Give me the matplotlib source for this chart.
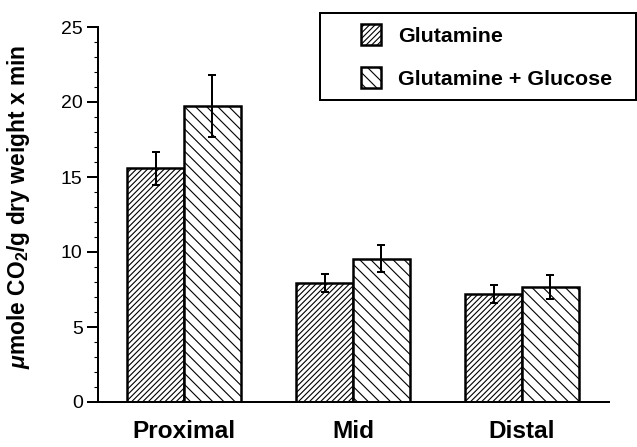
import matplotlib
matplotlib.use("Agg")
import matplotlib.pyplot as plt
from matplotlib.patches import Rectangle
from matplotlib.legend_handler import HandlerPatch
from matplotlib.ticker import MultipleLocator
import numpy as np

# Segments of the tissue
segments = ["Proximal", "Mid", "Distal"]
# Oxidation with glutamine only
glutamine = [15.6, 7.95, 7.2]
glutamine_err = [1.1, 0.6, 0.6]
# Oxidation with glutamine and glucose
glut_glucose = [19.75, 9.55, 7.65]
glut_glucose_err = [2.05, 0.9, 0.8]
# Series labels
series_labels = ["Glutamine", "Glutamine + Glucose"]

# figure is drawn at 200 dpi so the hatch spacing comes out right
DPI = 200
plt.rcParams["font.family"] = ["Liberation Sans", "DejaVu Sans"]
plt.rcParams["mathtext.fontset"] = "custom"
plt.rcParams["mathtext.rm"] = "Liberation Sans:bold"
plt.rcParams["mathtext.it"] = "Liberation Sans:italic:bold"
plt.rcParams["mathtext.bf"] = "Liberation Sans:bold"
plt.rcParams["hatch.linewidth"] = 0.4
plt.rcParams["hatch.color"] = "black"


def right_square(legend, orig_handle, xdescent, ydescent, width, height, fontsize):
    """ legend handle: a square sitting at the right end of the handle box """
    return Rectangle((width - height - xdescent, -ydescent), height, height)


def graph_generator():
    fig = plt.figure(figsize=(637 / DPI, 447 / DPI), dpi=DPI)
    ax = fig.add_axes([98 / 637, 45 / 447, 511 / 637, 375 / 447])

    x = np.arange(len(segments))
    width = 0.337
    bars1 = ax.bar(x - width / 2, glutamine, width, facecolor="white",
                   edgecolor="black", linewidth=0.9, hatch="/" * 12,
                   label=series_labels[0])
    bars2 = ax.bar(x + width / 2, glut_glucose, width, facecolor="white",
                   edgecolor="black", linewidth=0.9, hatch="\\" * 6,
                   label=series_labels[1])
    ax.errorbar(x - width / 2, glutamine, yerr=glutamine_err, fmt="none",
                ecolor="black", elinewidth=0.72, capsize=1.3, capthick=0.72)
    ax.errorbar(x + width / 2, glut_glucose, yerr=glut_glucose_err, fmt="none",
                ecolor="black", elinewidth=0.72, capsize=1.3, capthick=0.72)

    ax.set_xlim(-0.509, 2.515)
    ax.set_ylim(0, 25)
    ax.spines["top"].set_visible(False)
    ax.spines["right"].set_visible(False)
    ax.spines["left"].set_linewidth(0.72)
    ax.spines["bottom"].set_linewidth(0.72)

    ax.set_yticks([0, 5, 10, 15, 20, 25])
    ax.yaxis.set_minor_locator(MultipleLocator(1))
    ax.tick_params(axis="y", which="major", length=4, width=0.72, pad=1.5,
                   labelsize=7)
    ax.tick_params(axis="y", which="minor", length=1.4, width=0.4)
    ax.set_xticks(x)
    ax.set_xticklabels(segments, fontsize=8.8, fontweight="bold")
    ax.tick_params(axis="x", length=0, pad=6.5)

    fig.text(19 / 637, 1 - 207 / 447,
             r"$\mathit{\mu}$mole CO$_2$/g dry weight x min",
             rotation=90, ha="center", va="center", fontsize=8.2,
             fontweight="bold")

    # one patch of each series is enough for the legend
    leg = fig.legend(handles=[bars1[0], bars2[0]], labels=series_labels,
                     loc="upper left",
                     bbox_to_anchor=(320 / 637, 1 - 100 / 447, 316 / 637, 87 / 447),
                     mode="expand", borderaxespad=0,
                     prop={"weight": "bold", "size": 7.7},
                     handlelength=2.35, handleheight=1.12, handletextpad=0.8,
                     labelspacing=1.0, borderpad=0.52, fancybox=False,
                     framealpha=1, edgecolor="black",
                     handler_map={Rectangle: HandlerPatch(patch_func=right_square)})
    leg.get_frame().set_linewidth(0.72)
    return fig


fig = graph_generator()
fig.savefig("out.png", dpi=DPI)
